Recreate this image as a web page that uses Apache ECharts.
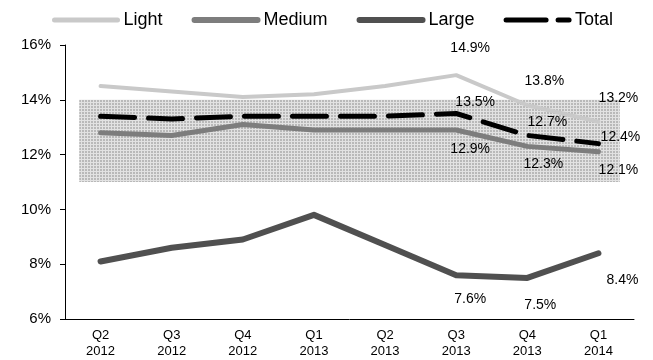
<!DOCTYPE html>
<html>
<head>
<meta charset="utf-8">
<script src="https://cdn.jsdelivr.net/npm/echarts@6/dist/echarts.min.js"></script>
<style>
  html, body { margin: 0; padding: 0; background: #fff; }
  #chart { width: 653px; height: 360px; }
</style>
</head>
<body>
<div id="chart"></div>
<script>
// Quarterly rates by fleet size
const categories = ['Q2\n2012', 'Q3\n2012', 'Q4\n2012', 'Q1\n2013', 'Q2\n2013', 'Q3\n2013', 'Q4\n2013', 'Q1\n2014'];
const lightValues  = [14.5, 14.3, 14.1, 14.2, 14.5, 14.9, 13.8, 13.2];
const mediumValues = [12.8, 12.7, 13.1, 12.9, 12.9, 12.9, 12.3, 12.1];
const largeValues  = [8.1, 8.6, 8.9, 9.8, 8.7, 7.6, 7.5, 8.4];
const totalValues  = [13.4, 13.3, 13.4, 13.4, 13.4, 13.5, 12.7, 12.4];
// Shaded target range (low, high)
const targetRange = [11, 14];
// Value axis ticks
const yTicks = { min: 6, max: 16, interval: 2 };

// Which points carry a value label, with where the label sits relative to the point
const labelOffsets = {
  light:  { 5: [14, -27], 6: [17, -24], 7: [20, -24] },
  total:  { 5: [19, -11], 6: [20, -13], 7: [22, -6] },
  medium: { 5: [14, 19],  6: [16, 18],  7: [20, 18] },
  large:  { 5: [14, 24],  6: [13, 27],  7: [24, 27] }
};

const FONT = '"Liberation Sans", Arial, sans-serif';

function withLabels(values, offsets) {
  return values.map(function (v, i) {
    if (!offsets[i]) return v;
    return {
      value: v,
      label: {
        show: true,
        position: 'inside',
        offset: offsets[i],
        formatter: function (p) { return p.value.toFixed(1) + '%'; },
        color: '#000',
        fontSize: 14,
        fontFamily: FONT
      }
    };
  });
}

// Fine mesh fill for the target band
function makeMesh() {
  const c = document.createElement('canvas');
  c.width = 3; c.height = 3;
  const ctx = c.getContext('2d');
  ctx.fillStyle = '#b9b9b9';
  ctx.fillRect(0, 0, 3, 3);
  ctx.fillStyle = '#e2e2e2';
  ctx.fillRect(0, 0, 3, 1);
  ctx.fillRect(0, 0, 1, 3);
  return c;
}
const mesh = makeMesh();

function lineSeries(name, values, color, width, dash, offsets, z) {
  return {
    name: name,
    type: 'line',
    data: withLabels(values, offsets),
    symbol: 'circle',
    symbolSize: 1,
    showSymbol: true,
    itemStyle: { color: 'rgba(0,0,0,0)' },
    lineStyle: { color: color, width: width, type: dash || 'solid', cap: 'round', join: 'round' },
    z: z,
    silent: true,
    emphasis: { disabled: true }
  };
}

const chart = echarts.init(document.getElementById('chart'), null, { renderer: 'canvas' });

chart.setOption({
  animation: false,
  backgroundColor: '#fff',
  textStyle: { fontFamily: FONT },
  grid: { left: 65, right: 19, top: 45, bottom: 41, containLabel: false },
  legend: {
    top: 6,
    left: 47,
    itemWidth: 63,
    itemHeight: 14,
    itemGap: 29,
    textStyle: { fontSize: 18, color: '#000', fontFamily: FONT, padding: [0, 0, 0, 1] },
    data: [
      { name: 'Light', lineStyle: { width: 5 } },
      { name: 'Medium', lineStyle: { width: 6 } },
      { name: 'Large', lineStyle: { width: 6 } },
      { name: 'Total', lineStyle: { width: 5, type: [40, 12] } }
    ]
  },
  xAxis: {
    type: 'category',
    data: categories,
    boundaryGap: true,
    axisLine: { lineStyle: { color: '#000', width: 1 } },
    axisTick: { show: false },
    axisLabel: { color: '#000', fontSize: 13, lineHeight: 16, margin: 8, fontFamily: FONT, interval: 0 }
  },
  yAxis: {
    type: 'value',
    min: yTicks.min,
    max: yTicks.max,
    interval: yTicks.interval,
    axisLine: { show: true, lineStyle: { color: '#000', width: 1 } },
    axisTick: { show: true, length: 5, lineStyle: { color: '#000' } },
    splitLine: { show: false },
    axisLabel: { color: '#000', fontSize: 15, margin: 14, fontFamily: FONT, formatter: '{value}%' }
  },
  series: [
    {
      name: 'band',
      type: 'custom',
      silent: true,
      z: 1,
      data: [[0, targetRange[0], targetRange[1]]],
      encode: { x: 0, y: [1, 2] },
      renderItem: function (params, api) {
        const bw = api.size([1, 0])[0];
        const pTop = api.coord([0, api.value(2)]);
        const pBot = api.coord([categories.length - 1, api.value(1)]);
        const x0 = pTop[0] - bw * 0.3;
        const x1 = pBot[0] + bw * 0.3;
        return {
          type: 'rect',
          shape: { x: x0, y: pTop[1], width: x1 - x0, height: pBot[1] - pTop[1] },
          style: { fill: { image: mesh, repeat: 'repeat' } }
        };
      }
    },
    lineSeries('Light', lightValues, '#c9c9c9', 4, 'solid', labelOffsets.light, 3),
    lineSeries('Medium', mediumValues, '#7d7d7d', 5, 'solid', labelOffsets.medium, 4),
    lineSeries('Large', largeValues, '#505050', 6, 'solid', labelOffsets.large, 5),
    lineSeries('Total', totalValues, '#000', 5, [34, 14], labelOffsets.total, 6)
  ]
});
</script>
</body>
</html>
